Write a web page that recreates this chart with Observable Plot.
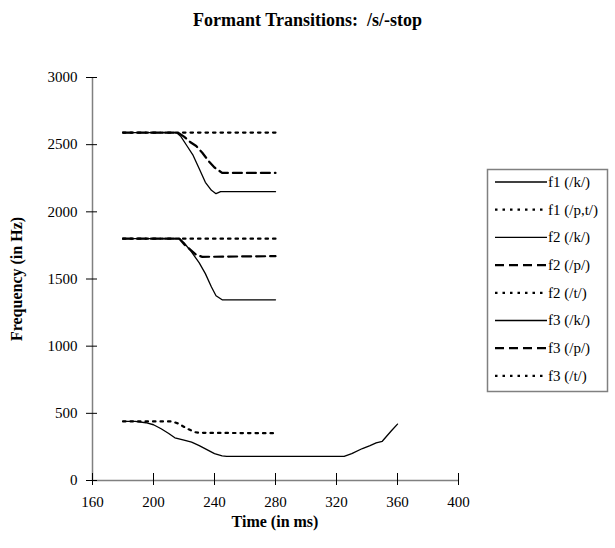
<!DOCTYPE html>
<html><head><meta charset="utf-8">
<script src="https://cdn.jsdelivr.net/npm/d3@7"></script>
<script src="https://cdn.jsdelivr.net/npm/@observablehq/plot@0.6"></script>
<style>
body{margin:0;background:#fff}
#chart{width:615px;height:548px}
svg text{font-family:"Liberation Serif","Times New Roman",serif}
</style>
</head><body><div id="chart"></div>
<script>
// ---- data (time in ms, frequency in Hz) ----
const f1_k  = [[180,440],[188,440],[195,430],[200,415],[205,385],[210,350],[214,318],[220,300],[225,285],[230,260],[235,230],[240,200],[245,183],[248,180],[325,180],[330,200],[337,238],[342,260],[346,280],[350,292],[356,370],[360,420]];
const f1_pt = [[180,440],[212,440],[216,425],[222,387],[227,360],[230,355],[280,352]];
const f2_k  = [[180,1800],[217,1800],[220,1770],[225,1700],[230,1620],[234,1540],[238,1440],[241,1375],[245,1345],[280,1345]];
const f2_p  = [[180,1800],[217,1800],[220,1760],[225,1710],[228,1680],[232,1665],[280,1670]];
const f2_t  = [[180,1800],[280,1800]];
const f3_k  = [[180,2590],[215,2590],[218,2560],[222,2490],[226,2420],[230,2320],[234,2220],[238,2160],[241,2135],[244,2150],[280,2150]];
const f3_p  = [[180,2590],[216,2590],[220,2560],[224,2520],[228,2490],[232,2440],[236,2380],[240,2330],[245,2290],[280,2290]];
const f3_t  = [[180,2590],[280,2590]];

const seriesLabels = ["f1 (/k/)","f1 (/p,t/)","f2 (/k/)","f2 (/p/)","f2 (/t/)","f3 (/k/)","f3 (/p/)","f3 (/t/)"];
const seriesData   = [f1_k, f1_pt, f2_k, f2_p, f2_t, f3_k, f3_p, f3_t];
const xTicks = [160,200,240,280,320,360,400];
const yTicks = [0,500,1000,1500,2000,2500,3000];
const title = "Formant Transitions:  /s/-stop";
const xLabel = "Time (in ms)";
const yLabel = "Frequency (in Hz)";

// style per series (solid / dashed / dotted)
const styleOf = ["solid","dotted","solid","dashed","dotted","solid","dashed","dotted"];
const styles = {
  solid:  {stroke:"#000", strokeWidth:1.3},
  dashed: {stroke:"#000", strokeWidth:2.2, strokeDasharray:"9,5"},
  dotted: {stroke:"#000", strokeWidth:2.2, strokeDasharray:"2.5,5"}
};

const rows = [];
seriesData.forEach((arr, i) => arr.forEach(([t, f]) => rows.push({series: seriesLabels[i], style: styleOf[i], t, f})));

const lineMarks = ["dotted","dashed","solid"].map(s =>
  Plot.line(rows.filter(d => d.style === s), {x:"t", y:"f", z:"series", ...styles[s], strokeLinejoin:"round"}));

const chart = Plot.plot({
  width: 615, height: 548,
  marginLeft: 92, marginRight: 157, marginTop: 77, marginBottom: 68,
  style: {fontFamily: '"Liberation Serif", serif', fontSize: "15px", color: "#000", background: "#fff"},
  x: {domain: [160, 400]},
  y: {domain: [0, 3000]},
  marks: [
    Plot.ruleX([160], {stroke:"#808080", strokeWidth:1.5}),
    Plot.ruleY([0], {stroke:"#808080", strokeWidth:1.5}),
    Plot.axisX({ticks: xTicks, tickSize: 5, tickPadding: 11, tickFormat: "d", label: null, stroke:"#000"}),
    Plot.axisX({ticks: xTicks, tickSize: -7, text: null, label: null, stroke:"#000"}),
    Plot.axisY({ticks: yTicks, tickSize: 6, tickPadding: 9, tickFormat: "d", label: null, stroke:"#000"}),
    Plot.axisY({ticks: yTicks, tickSize: -5, text: null, label: null, stroke:"#000"}),
    ...lineMarks
  ]
});
document.getElementById("chart").appendChild(chart);

const svg = d3.select(chart);
svg.append("text").attr("x", 307.5).attr("y", 26).attr("text-anchor","middle")
  .attr("font-size", 18).attr("font-weight","bold").text(title);
svg.append("text").attr("x", 275).attr("y", 527).attr("text-anchor","middle")
  .attr("font-size", 16).attr("font-weight","bold").text(xLabel);
svg.append("text").attr("transform","translate(22,279) rotate(-90)").attr("text-anchor","middle")
  .attr("font-size", 16).attr("font-weight","bold").text(yLabel);

// legend
const lg = svg.append("g").attr("text-anchor","start");
lg.append("rect").attr("x", 487.5).attr("y", 169.5).attr("width", 120).attr("height", 222)
  .attr("fill","#fff").attr("stroke","#808080").attr("stroke-width",1.5);
seriesLabels.forEach((lab, i) => {
  const y = 182 + i * 27.7;
  const st = styles[styleOf[i]];
  lg.append("line").attr("x1", 495).attr("x2", 547).attr("y1", y).attr("y2", y)
    .attr("stroke", st.stroke).attr("stroke-width", st.strokeWidth)
    .attr("stroke-dasharray", st.strokeDasharray || null);
  lg.append("text").attr("x", 548).attr("y", y).attr("dy","0.32em").attr("text-anchor","start")
    .attr("font-size", 15).text(lab);
});
</script></body></html>
